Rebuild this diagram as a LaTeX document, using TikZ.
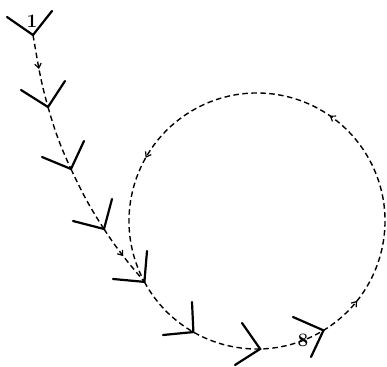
\documentclass[tikz,border=0pt]{standalone}
\usetikzlibrary{arrows.meta,decorations.markings,calc}
\begin{document}
\begin{tikzpicture}[x=1pt,y=1pt,
  arm/.style={line width=2.2pt,line cap=round},
  dp/.style={line width=1.4pt,dash pattern=on 5.5pt off 3.5pt},
  tipmark/.style={postaction={decorate,decoration={markings,
     mark=at position #1 with {\arrow{Straight Barb[length=4.5pt,width=6.5pt,line width=1.2pt]}}}}},
  lbl/.style={font=\fontsize{19}{20}\selectfont\bfseries, inner sep=0pt}]
\useasboundingbox (0,0) rectangle (387,366);
\coordinate (c) at (257,145);
% vertices of chevrons
\coordinate (v1) at (33,331);
\coordinate (v2) at (48,259);
\coordinate (v3) at (71,197);
\coordinate (v4) at (104,137);
\coordinate (v5) at ($(c)+(208.4:128)$);
\coordinate (v6) at ($(c)+(240.2:128)$);
\coordinate (v7) at ($(c)+(271.4:128)$);
\coordinate (v8) at ($(c)+(301.3:128)$);
% arm ends
\coordinate (a1) at (7,349);   \coordinate (b1) at (52,355);
\coordinate (a2) at (21,276);  \coordinate (b2) at (65,285);
\coordinate (a3) at (42,209);  \coordinate (b3) at (84,225);
\coordinate (a4) at (73,145);  \coordinate (b4) at (112,167);
\coordinate (a5) at (113,87);  \coordinate (b5) at (147,115);
\coordinate (a6) at (163,31);  \coordinate (b6) at (192,64);
\coordinate (a7) at (242,43);  \coordinate (b7) at (235,1);
\coordinate (a8) at (293,49);  \coordinate (b8) at (311,9);
% dashed path
\draw[dp,tipmark=0.47] (v1) to[out=-80,in=106] (v2);
\draw[dp] (v2) to[out=-74,in=115] (v3);
\draw[dp] (v3) to[out=-65,in=123] (v4);
\draw[dp,tipmark=0.5] (v4) to[out=-57,in=130] (v5);
\draw[dp,tipmark=0.314,tipmark=0.575,tipmark=0.839] (v5) arc (208.4:568.4:128);
% chevrons
\foreach \i in {1,...,8}{
  \draw[arm] (a\i) -- (v\i) -- (b\i);
}
\node[lbl] (n1) at (32,345) {1};
\node[lbl] (n8) at (303,26) {8};
\end{tikzpicture}
\end{document}
